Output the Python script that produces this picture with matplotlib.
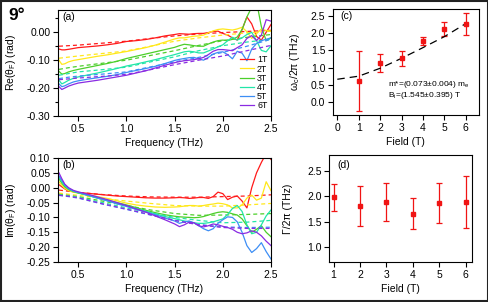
import matplotlib
matplotlib.use("Agg")
import matplotlib.pyplot as plt
from matplotlib.patches import Rectangle
from matplotlib.ticker import MultipleLocator

plt.rcParams["font.family"] = ["Liberation Sans", "DejaVu Sans"]
plt.rcParams["mathtext.default"] = "regular"

# ---- data ----
fields = ["1T", "2T", "3T", "4T", "5T", "6T"]
colors = ["#ff1a1a", "#ffe81a", "#4ccf2a", "#22e6a8", "#3d8ef5", "#8a2be2"]

freq = [0.30, 0.33, 0.36, 0.40, 0.45, 0.50, 0.60, 0.70, 0.80, 0.90, 1.00, 1.10,
        1.20, 1.30, 1.40, 1.50, 1.55, 1.60, 1.65, 1.70, 1.75, 1.80, 1.85, 1.90,
        1.95, 2.00, 2.05, 2.10, 2.15, 2.20, 2.25, 2.30, 2.35, 2.40, 2.45, 2.50]
freq_fit = [0.3, 0.4, 0.5, 0.75, 1.0, 1.25, 1.5, 1.75, 2.0, 2.25, 2.5]

# Re(theta_F), measured
re_1t = [-0.060, -0.063, -0.063, -0.061, -0.058, -0.055, -0.052, -0.049, -0.045, -0.040, -0.033, -0.030,
         -0.026, -0.020, -0.013, -0.008, -0.005, -0.006, -0.007, -0.005, -0.004, -0.004, -0.001, 0.003,
         0.004, -0.004, -0.010, -0.020, -0.028, 0.010, 0.055, 0.030, -0.015, -0.028, 0.000, 0.028]
re_2t = [-0.100, -0.115, -0.113, -0.106, -0.101, -0.098, -0.092, -0.086, -0.081, -0.075, -0.069, -0.062,
         -0.055, -0.046, -0.035, -0.024, -0.020, -0.020, -0.017, -0.014, -0.013, -0.010, -0.002, 0.005,
         0.010, 0.012, 0.010, 0.008, 0.012, 0.018, 0.002, -0.022, -0.005, 0.012, 0.006, 0.004]
re_3t = [-0.140, -0.150, -0.148, -0.142, -0.137, -0.133, -0.126, -0.119, -0.112, -0.104, -0.094, -0.086,
         -0.078, -0.070, -0.062, -0.054, -0.048, -0.043, -0.045, -0.048, -0.050, -0.050, -0.042, -0.035,
         -0.030, -0.028, -0.030, -0.025, -0.017, 0.010, 0.055, 0.090, 0.110, 0.020, -0.030, -0.020]
re_4t = [-0.172, -0.185, -0.180, -0.172, -0.165, -0.160, -0.153, -0.146, -0.138, -0.130, -0.121, -0.114,
         -0.106, -0.098, -0.089, -0.080, -0.075, -0.070, -0.068, -0.070, -0.074, -0.074, -0.067, -0.060,
         -0.052, -0.045, -0.030, -0.018, -0.028, -0.020, -0.008, 0.000, -0.030, -0.065, -0.070, -0.048]
re_5t = [-0.185, -0.195, -0.192, -0.185, -0.178, -0.174, -0.168, -0.163, -0.158, -0.152, -0.144, -0.137,
         -0.130, -0.122, -0.112, -0.101, -0.097, -0.094, -0.091, -0.090, -0.095, -0.100, -0.090, -0.078,
         -0.072, -0.070, -0.080, -0.095, -0.068, -0.075, -0.102, -0.060, -0.040, -0.030, -0.025, -0.020]
re_6t = [-0.195, -0.205, -0.200, -0.193, -0.187, -0.182, -0.177, -0.172, -0.166, -0.160, -0.154, -0.146,
         -0.138, -0.128, -0.118, -0.109, -0.105, -0.102, -0.100, -0.098, -0.095, -0.090, -0.080, -0.068,
         -0.062, -0.062, -0.064, -0.066, -0.055, -0.045, -0.022, -0.012, -0.030, -0.010, 0.045, 0.040]

# Re(theta_F), fit
re_fit_1t = [-0.050, -0.048, -0.046, -0.039, -0.032, -0.022, -0.013, -0.006, -0.001, 0.003, 0.007]
re_fit_2t = [-0.093, -0.089, -0.085, -0.076, -0.067, -0.050, -0.032, -0.020, -0.010, -0.002, 0.004]
re_fit_3t = [-0.133, -0.127, -0.122, -0.111, -0.100, -0.083, -0.066, -0.047, -0.030, -0.018, -0.008]
re_fit_4t = [-0.154, -0.148, -0.142, -0.134, -0.125, -0.106, -0.088, -0.066, -0.048, -0.035, -0.025]
re_fit_5t = [-0.166, -0.161, -0.157, -0.150, -0.142, -0.124, -0.106, -0.090, -0.072, -0.050, -0.025]
re_fit_6t = [-0.170, -0.167, -0.164, -0.158, -0.151, -0.134, -0.116, -0.100, -0.085, -0.066, -0.047]

# Im(theta_F), measured
im_1t = [0.010, 0.003, -0.004, -0.010, -0.014, -0.016, -0.019, -0.022, -0.025, -0.028, -0.030, -0.032,
         -0.034, -0.035, -0.035, -0.034, -0.033, -0.034, -0.036, -0.035, -0.033, -0.033, -0.036, -0.030,
         -0.015, -0.020, -0.040, -0.032, -0.028, -0.045, -0.068, 0.000, 0.050, 0.085, 0.115, 0.095]
im_2t = [0.020, 0.008, -0.002, -0.010, -0.015, -0.018, -0.024, -0.030, -0.036, -0.044, -0.052, -0.058,
         -0.062, -0.065, -0.066, -0.065, -0.064, -0.062, -0.060, -0.060, -0.062, -0.060, -0.057, -0.055,
         -0.052, -0.054, -0.058, -0.068, -0.068, -0.058, -0.035, -0.025, -0.042, -0.035, 0.020, -0.010]
im_3t = [0.030, 0.015, 0.003, -0.006, -0.013, -0.018, -0.026, -0.034, -0.042, -0.050, -0.058, -0.067,
         -0.076, -0.084, -0.091, -0.096, -0.098, -0.099, -0.100, -0.101, -0.100, -0.097, -0.092, -0.087,
         -0.083, -0.081, -0.083, -0.088, -0.092, -0.105, -0.128, -0.150, -0.140, -0.128, -0.150, -0.165]
im_4t = [0.035, 0.020, 0.007, -0.004, -0.012, -0.017, -0.026, -0.035, -0.044, -0.053, -0.061, -0.070,
         -0.079, -0.088, -0.097, -0.104, -0.108, -0.112, -0.115, -0.118, -0.120, -0.120, -0.118, -0.115,
         -0.110, -0.105, -0.090, -0.070, -0.060, -0.080, -0.125, -0.155, -0.150, -0.125, -0.095, -0.075]
im_5t = [0.040, 0.025, 0.010, -0.002, -0.011, -0.016, -0.025, -0.035, -0.044, -0.054, -0.063, -0.073,
         -0.082, -0.091, -0.102, -0.112, -0.120, -0.115, -0.112, -0.118, -0.128, -0.138, -0.145, -0.138,
         -0.120, -0.108, -0.098, -0.100, -0.115, -0.150, -0.195, -0.218, -0.205, -0.185, -0.215, -0.240]
im_6t = [0.050, 0.030, 0.012, 0.000, -0.009, -0.014, -0.022, -0.031, -0.040, -0.050, -0.060, -0.071,
         -0.082, -0.095, -0.108, -0.122, -0.131, -0.125, -0.116, -0.118, -0.128, -0.132, -0.128, -0.122,
         -0.125, -0.130, -0.134, -0.140, -0.150, -0.155, -0.152, -0.145, -0.150, -0.162, -0.180, -0.195]

# Im(theta_F), fit
im_fit_1t = [-0.008, -0.012, -0.016, -0.023, -0.028, -0.031, -0.032, -0.032, -0.030, -0.028, -0.024]
im_fit_2t = [-0.018, -0.022, -0.026, -0.036, -0.045, -0.053, -0.060, -0.062, -0.062, -0.058, -0.053]
im_fit_3t = [-0.022, -0.026, -0.030, -0.045, -0.060, -0.075, -0.087, -0.093, -0.092, -0.090, -0.087]
im_fit_4t = [-0.024, -0.028, -0.032, -0.050, -0.068, -0.085, -0.100, -0.110, -0.118, -0.116, -0.110]
im_fit_5t = [-0.026, -0.030, -0.035, -0.055, -0.073, -0.092, -0.110, -0.124, -0.132, -0.134, -0.133]
im_fit_6t = [-0.025, -0.029, -0.034, -0.054, -0.072, -0.091, -0.110, -0.125, -0.134, -0.137, -0.137]

# cyclotron frequency and scattering rate vs field
field = [1, 2, 3, 4, 5, 6]
wc = [0.62, 1.13, 1.27, 1.77, 2.12, 2.26]
wc_err = [0.87, 0.25, 0.22, 0.12, 0.19, 0.32]
wc_fit_field = [0, 1, 2, 3, 4, 5, 6]
wc_fit = [0.66, 0.75, 0.98, 1.27, 1.58, 1.90, 2.28]
gamma = [1.98, 1.81, 1.89, 1.66, 1.87, 1.89]
gamma_err = [0.27, 0.40, 0.38, 0.31, 0.40, 0.52]

re_meas = [re_1t, re_2t, re_3t, re_4t, re_5t, re_6t]
re_fit = [re_fit_1t, re_fit_2t, re_fit_3t, re_fit_4t, re_fit_5t, re_fit_6t]
im_meas = [im_1t, im_2t, im_3t, im_4t, im_5t, im_6t]
im_fit = [im_fit_1t, im_fit_2t, im_fit_3t, im_fit_4t, im_fit_5t, im_fit_6t]

FS = 7.5
DASH = (0, (3.2, 2.4))


def style_axis(ax):
    for s in ax.spines.values():
        s.set_linewidth(0.8)
    ax.tick_params(direction="out", length=3.5, width=0.8, pad=2, labelsize=FS,
                   top=False, right=False)
    ax.tick_params(which="minor", direction="out", length=2.5, width=0.8)


def plot_spectra(ax, meas, fits, ylabel):
    for y, yf, c, lab in zip(meas, fits, colors, fields):
        ax.plot(freq, y, color=c, lw=0.9, label=lab)
        ax.plot(freq_fit, yf, color=c, lw=0.9, linestyle=DASH)
    ax.set_xlim(0.29, 2.5)
    ax.xaxis.set_major_locator(MultipleLocator(0.5))
    ax.set_xlabel("Frequency (THz)", fontsize=FS, labelpad=3)
    ax.set_ylabel(ylabel, fontsize=FS)
    ax.yaxis.set_label_coords(-0.19, 0.5)
    style_axis(ax)


fig = plt.figure(figsize=(4.89, 3.02), dpi=100)
fig.patches.append(Rectangle((0.002, 0.003), 0.995, 0.993, transform=fig.transFigure,
                             fill=False, lw=1.5, edgecolor="#222222"))
fig.text(8 / 489, 1 - 16 / 302, "9°", fontsize=12.5, fontweight="bold", va="center")

ax_a = fig.add_axes([0.1186, 0.616, 0.4356, 0.351])
ax_b = fig.add_axes([0.1186, 0.1325, 0.4356, 0.3444])
ax_c = fig.add_axes([0.681, 0.619, 0.298, 0.351])
ax_d = fig.add_axes([0.673, 0.1325, 0.292, 0.354])

# (a)
plot_spectra(ax_a, re_meas, re_fit, r"Re($\theta_F$) (rad)")
ax_a.set_ylim(-0.30, 0.08)
ax_a.yaxis.set_major_locator(MultipleLocator(0.10))
ax_a.yaxis.set_minor_locator(MultipleLocator(0.05))
ax_a.yaxis.set_major_formatter(lambda v, p: f"{v:.2f}".replace("-0.00", "0.00"))
ax_a.text(0.02, 0.93, "(a)", transform=ax_a.transAxes, fontsize=FS, va="center")
ax_a.legend(loc="lower right", bbox_to_anchor=(1.02, -0.02), frameon=False, fontsize=6.3,
            handlelength=1.6, handletextpad=0.3, labelspacing=0.02, markerfirst=True)

# (b)
plot_spectra(ax_b, im_meas, im_fit, r"Im($\theta_F$) (rad)")
ax_b.set_ylim(-0.25, 0.10)
ax_b.yaxis.set_major_locator(MultipleLocator(0.05))
ax_b.yaxis.set_major_formatter(lambda v, p: f"{v:.2f}".replace("-0.00", "0.00"))
ax_b.text(0.02, 0.93, "(b)", transform=ax_b.transAxes, fontsize=FS, va="center")

# (c)
ax_c.errorbar(field, wc, yerr=wc_err, fmt="s", color="#f01414", ms=3, lw=0.9,
              capsize=2.2, capthick=0.9)
ax_c.plot(wc_fit_field, wc_fit, color="black", lw=0.9, linestyle=(0, (6, 4)))
ax_c.set_xlim(-0.2, 6.6)
ax_c.set_ylim(-0.38, 2.7)
ax_c.xaxis.set_major_locator(MultipleLocator(1))
ax_c.yaxis.set_major_locator(MultipleLocator(0.5))
ax_c.yaxis.set_major_formatter(lambda v, p: f"{v:.1f}".replace("-0.0", "0.0"))
ax_c.set_xlabel("Field (T)", fontsize=FS, labelpad=3)
ax_c.set_ylabel("ω$_c$/2π (THz)", fontsize=FS)
ax_c.yaxis.set_label_coords(-0.21, 0.5)
ax_c.text(0.05, 0.93, "(c)", transform=ax_c.transAxes, fontsize=FS, va="center")
ax_c.text(2.35, 0.50, "m*=(0.073±0.004) m$_e$", fontsize=6.0, va="center")
ax_c.text(2.35, 0.18, "B$_i$=(1.545±0.395) T", fontsize=6.0, va="center")
style_axis(ax_c)

# (d)
ax_d.errorbar(field, gamma, yerr=gamma_err, fmt="s", color="#f01414", ms=3, lw=0.9,
              capsize=2.2, capthick=0.9)
ax_d.set_xlim(0.83, 6.23)
ax_d.set_ylim(0.7, 2.82)
ax_d.xaxis.set_major_locator(MultipleLocator(1))
ax_d.yaxis.set_major_locator(MultipleLocator(0.5))
ax_d.yaxis.set_major_formatter(lambda v, p: f"{v:.1f}")
ax_d.set_xlabel("Field (T)", fontsize=FS, labelpad=3)
ax_d.set_ylabel("Γ/2π (THz)", fontsize=FS)
ax_d.yaxis.set_label_coords(-0.25, 0.5)
ax_d.text(0.06, 0.91, "(d)", transform=ax_d.transAxes, fontsize=FS, va="center")
style_axis(ax_d)

fig.savefig("out.png", dpi=100)
